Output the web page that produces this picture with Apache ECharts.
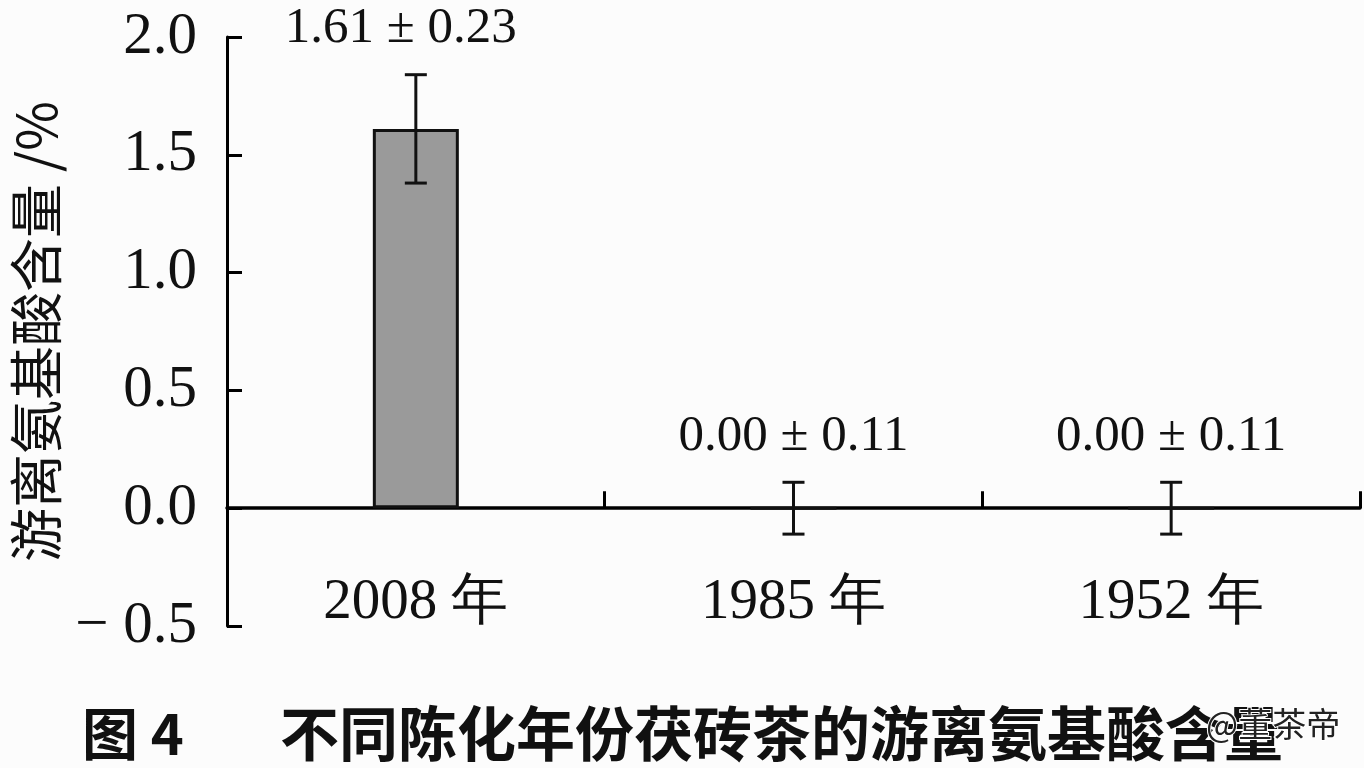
<!DOCTYPE html>
<html><head><meta charset="utf-8">
<script src="https://cdn.jsdelivr.net/npm/echarts@6/dist/echarts.min.js"></script>
<style>html,body{margin:0;padding:0;background:#fcfcfc}#c{width:1364px;height:768px}</style>
</head><body><div id="c"></div>
<script>
const categories = ['2008 年', '1985 年', '1952 年'];
const values = [1.61, 0.00, 0.00];
const errors = [0.23, 0.11, 0.11];
const valueLabels = ['1.61 ± 0.23', '0.00 ± 0.11', '0.00 ± 0.11'];
const yTicks = { min: -0.5, max: 2.0, interval: 0.5 };
const yName = '游离氨基酸含量 /%';
const captionNo = '图 4';
const caption = '不同陈化年份茯砖茶的游离氨基酸含量';
const watermark = '@董茶帝';

const serif = '"Liberation Serif","DejaVu Serif",serif';
const cjk = '"Noto Sans CJK SC","Noto Sans CJK JP",sans-serif';
const chart = echarts.init(document.getElementById('c'));
chart.setOption({
  backgroundColor: '#fcfcfc',
  animation: false,
  grid: { left: 227, right: 4, top: 37, bottom: 142 },
  xAxis: {
    type: 'category', data: categories,
    axisLine: { onZero: true, lineStyle: { color: '#000', width: 3.5 } },
    axisTick: { show: true, inside: true, length: 17, lineStyle: { color: '#000', width: 3 },
      interval: function (idx) { return idx < categories.length; } },
    axisLabel: { margin: -51, color: '#111', fontFamily: serif, fontSize: 57 },
    splitLine: { show: false }
  },
  yAxis: {
    type: 'value', min: yTicks.min, max: yTicks.max, interval: yTicks.interval,
    name: yName, nameLocation: 'middle', nameGap: 164, nameRotate: 90,
    nameTextStyle: { fontFamily: cjk, fontSize: 54, color: '#111' },
    axisLine: { show: true, lineStyle: { color: '#000', width: 3 } },
    axisTick: { show: true, inside: true, length: 15, lineStyle: { color: '#000', width: 3 } },
    axisLabel: { margin: 30, color: '#111', fontFamily: serif, fontSize: 59,
      formatter: v => v < 0 ? '− ' + Math.abs(v).toFixed(1) : v.toFixed(1) },
    splitLine: { show: false }
  },
  series: [
    {
      type: 'bar', data: values, barWidth: 86,
      itemStyle: { color: '#9a9a9a', borderColor: '#111', borderWidth: 3 }
    },
    {
      type: 'custom',
      data: values.map((v, i) => [i, v, errors[i]]),
      renderItem: function (params, api) {
        const i = api.value(0), v = api.value(1), e = api.value(2);
        const top = api.coord([i, v + e]);
        const bot = api.coord([i, v - e]);
        const half = 11;
        return {
          type: 'group',
          children: [
            { type: 'line', shape: { x1: top[0], y1: top[1], x2: bot[0], y2: bot[1] }, style: { stroke: '#111', lineWidth: 3 } },
            { type: 'line', shape: { x1: top[0] - half, y1: top[1], x2: top[0] + half, y2: top[1] }, style: { stroke: '#111', lineWidth: 3 } },
            { type: 'line', shape: { x1: bot[0] - half, y1: bot[1], x2: bot[0] + half, y2: bot[1] }, style: { stroke: '#111', lineWidth: 3 } },
            { type: 'text', x: top[0] - (i === 0 ? 15 : 0), y: top[1] - 46,
              style: { text: valueLabels[params.dataIndex], fontFamily: serif, fontSize: 51, fill: '#111',
                align: 'center', verticalAlign: 'middle' } }
          ]
        };
      },
      z: 5
    }
  ],
  graphic: [
    { type: 'text', left: 82, top: 706, style: { text: captionNo, fontFamily: cjk, fontSize: 56, fontWeight: 'bold', fill: '#111' } },
    { type: 'text', left: 280, top: 704, style: { text: caption, fontFamily: cjk, fontSize: 59, fontWeight: 'bold', fill: '#111' } },
    { type: 'text', left: 1205, top: 706, style: { text: watermark, fontFamily: cjk, fontSize: 34, fill: '#222', stroke: '#fff', lineWidth: 2 } }
  ]
});
</script></body></html>
